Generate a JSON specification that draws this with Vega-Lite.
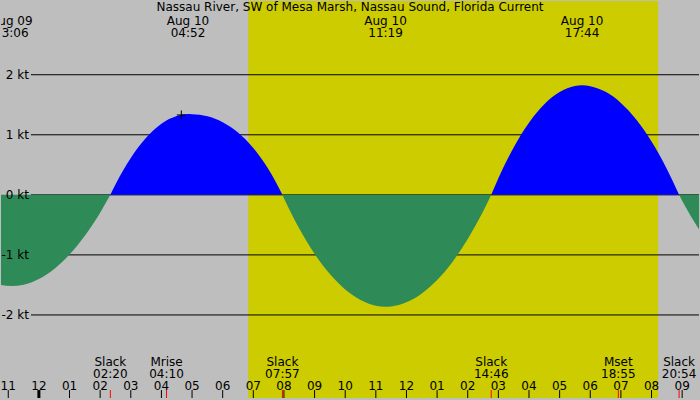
{
  "$schema": "https://vega.github.io/schema/vega-lite/v6.json",
  "width": 700,
  "height": 400,
  "autosize": {"type": "fit", "contains": "padding"},
  "padding": 0,
  "background": "#bebebe",
  "config": {"view": {"stroke": null}, "font": "DejaVu Sans"},
  "datasets": {
    "daylight": [{"t": 6.836, "t2": 20.215}],
    "heading": [{"t": 10.156, "label": "Nassau River, SW of Mesa Marsh, Nassau Sound, Florida Current"}],
    "grid": [
      {"v": 2, "label": "2 kt"},
      {"v": 1, "label": "1 kt"},
      {"v": 0, "label": "0 kt"},
      {"v": -1, "label": "-1 kt"},
      {"v": -2, "label": "-2 kt"}
    ],
    "hours": [
      {"t": -1, "label": "11"}, {"t": 0, "label": "12"}, {"t": 1, "label": "01"},
      {"t": 2, "label": "02"}, {"t": 3, "label": "03"}, {"t": 4, "label": "04"},
      {"t": 5, "label": "05"}, {"t": 6, "label": "06"}, {"t": 7, "label": "07"},
      {"t": 8, "label": "08"}, {"t": 9, "label": "09"}, {"t": 10, "label": "10"},
      {"t": 11, "label": "11"}, {"t": 12, "label": "12"}, {"t": 13, "label": "01"},
      {"t": 14, "label": "02"}, {"t": 15, "label": "03"}, {"t": 16, "label": "04"},
      {"t": 17, "label": "05"}, {"t": 18, "label": "06"}, {"t": 19, "label": "07"},
      {"t": 20, "label": "08"}, {"t": 21, "label": "09"}
    ],
    "current": [
      {"t": -1.237, "v": -1.5, "seg": "e0", "dir": "ebb"},
      {"t": -0.9, "v": -1.52, "seg": "e0", "dir": "ebb"},
      {"t": -0.5, "v": -1.497, "seg": "e0", "dir": "ebb"},
      {"t": 0, "v": -1.402, "seg": "e0", "dir": "ebb"},
      {"t": 0.5, "v": -1.235, "seg": "e0", "dir": "ebb"},
      {"t": 1.0, "v": -0.995, "seg": "e0", "dir": "ebb"},
      {"t": 1.5, "v": -0.682, "seg": "e0", "dir": "ebb"},
      {"t": 2.0, "v": -0.297, "seg": "e0", "dir": "ebb"},
      {"t": 2.333, "v": 0, "seg": "e0", "dir": "ebb"},
      {"t": 2.333, "v": 0, "seg": "f1", "dir": "flood"},
      {"t": 2.5, "v": 0.171, "seg": "f1", "dir": "flood"},
      {"t": 3.0, "v": 0.613, "seg": "f1", "dir": "flood"},
      {"t": 3.5, "v": 0.95, "seg": "f1", "dir": "flood"},
      {"t": 4.0, "v": 1.183, "seg": "f1", "dir": "flood"},
      {"t": 4.5, "v": 1.312, "seg": "f1", "dir": "flood"},
      {"t": 4.867, "v": 1.345, "seg": "f1", "dir": "flood"},
      {"t": 5.0, "v": 1.343, "seg": "f1", "dir": "flood"},
      {"t": 5.5, "v": 1.31, "seg": "f1", "dir": "flood"},
      {"t": 6.0, "v": 1.21, "seg": "f1", "dir": "flood"},
      {"t": 6.5, "v": 1.04, "seg": "f1", "dir": "flood"},
      {"t": 7.0, "v": 0.78, "seg": "f1", "dir": "flood"},
      {"t": 7.5, "v": 0.42, "seg": "f1", "dir": "flood"},
      {"t": 7.95, "v": 0, "seg": "f1", "dir": "flood"},
      {"t": 7.95, "v": 0, "seg": "e1", "dir": "ebb"},
      {"t": 8.0, "v": -0.055, "seg": "e1", "dir": "ebb"},
      {"t": 8.5, "v": -0.559, "seg": "e1", "dir": "ebb"},
      {"t": 9.0, "v": -0.981, "seg": "e1", "dir": "ebb"},
      {"t": 9.5, "v": -1.32, "seg": "e1", "dir": "ebb"},
      {"t": 10.0, "v": -1.578, "seg": "e1", "dir": "ebb"},
      {"t": 10.5, "v": -1.753, "seg": "e1", "dir": "ebb"},
      {"t": 11.0, "v": -1.846, "seg": "e1", "dir": "ebb"},
      {"t": 11.317, "v": -1.863, "seg": "e1", "dir": "ebb"},
      {"t": 11.5, "v": -1.858, "seg": "e1", "dir": "ebb"},
      {"t": 12.0, "v": -1.79, "seg": "e1", "dir": "ebb"},
      {"t": 12.5, "v": -1.644, "seg": "e1", "dir": "ebb"},
      {"t": 13.0, "v": -1.42, "seg": "e1", "dir": "ebb"},
      {"t": 13.5, "v": -1.117, "seg": "e1", "dir": "ebb"},
      {"t": 14.0, "v": -0.736, "seg": "e1", "dir": "ebb"},
      {"t": 14.5, "v": -0.277, "seg": "e1", "dir": "ebb"},
      {"t": 14.767, "v": 0, "seg": "e1", "dir": "ebb"},
      {"t": 14.767, "v": 0, "seg": "f2", "dir": "flood"},
      {"t": 15.0, "v": 0.275, "seg": "f2", "dir": "flood"},
      {"t": 15.5, "v": 0.79, "seg": "f2", "dir": "flood"},
      {"t": 16.0, "v": 1.201, "seg": "f2", "dir": "flood"},
      {"t": 16.5, "v": 1.508, "seg": "f2", "dir": "flood"},
      {"t": 17.0, "v": 1.712, "seg": "f2", "dir": "flood"},
      {"t": 17.5, "v": 1.812, "seg": "f2", "dir": "flood"},
      {"t": 17.733, "v": 1.823, "seg": "f2", "dir": "flood"},
      {"t": 18.0, "v": 1.81, "seg": "f2", "dir": "flood"},
      {"t": 18.5, "v": 1.716, "seg": "f2", "dir": "flood"},
      {"t": 19.0, "v": 1.531, "seg": "f2", "dir": "flood"},
      {"t": 19.5, "v": 1.255, "seg": "f2", "dir": "flood"},
      {"t": 20.0, "v": 0.889, "seg": "f2", "dir": "flood"},
      {"t": 20.5, "v": 0.431, "seg": "f2", "dir": "flood"},
      {"t": 20.9, "v": 0, "seg": "f2", "dir": "flood"},
      {"t": 20.9, "v": 0, "seg": "e2", "dir": "ebb"},
      {"t": 21.0, "v": -0.097, "seg": "e2", "dir": "ebb"},
      {"t": 21.2, "v": -0.28, "seg": "e2", "dir": "ebb"},
      {"t": 21.4, "v": -0.453, "seg": "e2", "dir": "ebb"},
      {"t": 21.55, "v": -0.574, "seg": "e2", "dir": "ebb"}
    ],
    "extremes": [
      {"t": -0.9, "lines": ["Aug 09", "23:06"]},
      {"t": 4.867, "lines": ["Aug 10", "04:52"]},
      {"t": 11.317, "lines": ["Aug 10", "11:19"]},
      {"t": 17.733, "lines": ["Aug 10", "17:44"]}
    ],
    "events": [
      {"t": 2.333, "lines": ["Slack", "02:20"]},
      {"t": 4.167, "lines": ["Mrise", "04:10"]},
      {"t": 7.95, "lines": ["Slack", "07:57"]},
      {"t": 14.767, "lines": ["Slack", "14:46"]},
      {"t": 18.917, "lines": ["Mset", "18:55"]},
      {"t": 20.9, "lines": ["Slack", "20:54"]}
    ],
    "marker": [{"t": 4.65, "v": 1.33}]
  },
  "layer": [
    {
      "data": {"name": "daylight"},
      "mark": {"type": "rect", "color": "#cccc00"},
      "encoding": {
        "x": {"field": "t", "type": "quantitative", "scale": {"domain": [-1.237, 21.55], "nice": false, "zero": false}, "axis": null},
        "x2": {"field": "t2"}
      }
    },
    {
      "data": {"name": "grid"},
      "mark": {"type": "rule", "color": "black", "strokeWidth": 1},
      "encoding": {
        "y": {"field": "v", "type": "quantitative", "scale": {"domain": [-3.383, 3.228], "nice": false, "zero": false}, "axis": null},
        "x": {"datum": -0.26, "type": "quantitative", "scale": {"domain": [-1.237, 21.55], "nice": false, "zero": false}, "axis": null},
        "x2": {"datum": 21.55}
      }
    },
    {
      "data": {"name": "current"},
      "mark": {"type": "area", "interpolate": "monotone"},
      "encoding": {
        "x": {"field": "t", "type": "quantitative", "scale": {"domain": [-1.237, 21.55], "nice": false, "zero": false}, "axis": null},
        "y": {"field": "v", "type": "quantitative", "stack": null, "scale": {"domain": [-3.383, 3.228], "nice": false, "zero": false}, "axis": null},
        "y2": {"datum": 0},
        "detail": {"field": "seg"},
        "color": {"field": "dir", "type": "nominal", "scale": {"domain": ["flood", "ebb"], "range": ["#0000ff", "#2e8b57"]}, "legend": null}
      }
    },
    {
      "data": {"name": "grid"},
      "mark": {"type": "text", "align": "right", "baseline": "middle", "font": "DejaVu Sans", "fontSize": 12, "color": "black"},
      "encoding": {
        "y": {"field": "v", "type": "quantitative", "scale": {"domain": [-3.383, 3.228], "nice": false, "zero": false}, "axis": null},
        "x": {"datum": -0.3255, "type": "quantitative", "scale": {"domain": [-1.237, 21.55], "nice": false, "zero": false}, "axis": null},
        "text": {"field": "label"}
      }
    },
    {
      "data": {"name": "marker"},
      "mark": {"type": "point", "shape": "M-1,0H1M0,-1V1", "size": 81, "filled": false, "color": "black", "strokeWidth": 1, "opacity": 1},
      "encoding": {
        "x": {"field": "t", "type": "quantitative", "scale": {"domain": [-1.237, 21.55], "nice": false, "zero": false}, "axis": null},
        "y": {"field": "v", "type": "quantitative", "scale": {"domain": [-3.383, 3.228], "nice": false, "zero": false}, "axis": null}
      }
    },
    {
      "data": {"name": "heading"},
      "mark": {"type": "text", "align": "center", "baseline": "top", "font": "DejaVu Sans", "fontSize": 12, "color": "black"},
      "encoding": {
        "x": {"field": "t", "type": "quantitative", "scale": {"domain": [-1.237, 21.55], "nice": false, "zero": false}, "axis": null},
        "y": {"datum": 3.212, "type": "quantitative", "scale": {"domain": [-3.383, 3.228], "nice": false, "zero": false}, "axis": null},
        "text": {"field": "label"}
      }
    },
    {
      "data": {"name": "extremes"},
      "mark": {"type": "text", "align": "center", "baseline": "top", "lineHeight": 12, "font": "DejaVu Sans", "fontSize": 12, "color": "black", "clip": true},
      "encoding": {
        "x": {"field": "t", "type": "quantitative", "scale": {"domain": [-1.237, 21.55], "nice": false, "zero": false}, "axis": null},
        "y": {"datum": 2.97, "type": "quantitative", "scale": {"domain": [-3.383, 3.228], "nice": false, "zero": false}, "axis": null},
        "text": {"field": "lines"}
      }
    },
    {
      "data": {"name": "events"},
      "mark": {"type": "text", "align": "center", "baseline": "top", "lineHeight": 12, "font": "DejaVu Sans", "fontSize": 12, "color": "black"},
      "encoding": {
        "x": {"field": "t", "type": "quantitative", "scale": {"domain": [-1.237, 21.55], "nice": false, "zero": false}, "axis": null},
        "y": {"datum": -2.705, "type": "quantitative", "scale": {"domain": [-3.383, 3.228], "nice": false, "zero": false}, "axis": null},
        "text": {"field": "lines"}
      }
    },
    {
      "data": {"name": "hours"},
      "mark": {"type": "rule", "color": "black"},
      "encoding": {
        "x": {"field": "t", "type": "quantitative", "scale": {"domain": [-1.237, 21.55], "nice": false, "zero": false}, "axis": null},
        "y": {"datum": -3.251, "type": "quantitative", "scale": {"domain": [-3.383, 3.228], "nice": false, "zero": false}, "axis": null},
        "y2": {"datum": -3.383},
        "strokeWidth": {"condition": {"test": "datum.t === 0", "value": 3}, "value": 1}
      }
    },
    {
      "data": {"name": "hours"},
      "mark": {"type": "text", "align": "center", "baseline": "middle", "font": "DejaVu Sans", "fontSize": 12, "color": "black"},
      "encoding": {
        "x": {"field": "t", "type": "quantitative", "scale": {"domain": [-1.237, 21.55], "nice": false, "zero": false}, "axis": null},
        "y": {"datum": -3.18, "type": "quantitative", "scale": {"domain": [-3.383, 3.228], "nice": false, "zero": false}, "axis": null},
        "text": {"field": "label"}
      }
    },
    {
      "data": {"name": "events"},
      "mark": {"type": "rule", "color": "red", "strokeWidth": 1},
      "encoding": {
        "x": {"field": "t", "type": "quantitative", "scale": {"domain": [-1.237, 21.55], "nice": false, "zero": false}, "axis": null},
        "y": {"datum": -3.251, "type": "quantitative", "scale": {"domain": [-3.383, 3.228], "nice": false, "zero": false}, "axis": null},
        "y2": {"datum": -3.383}
      }
    }
  ]
}
